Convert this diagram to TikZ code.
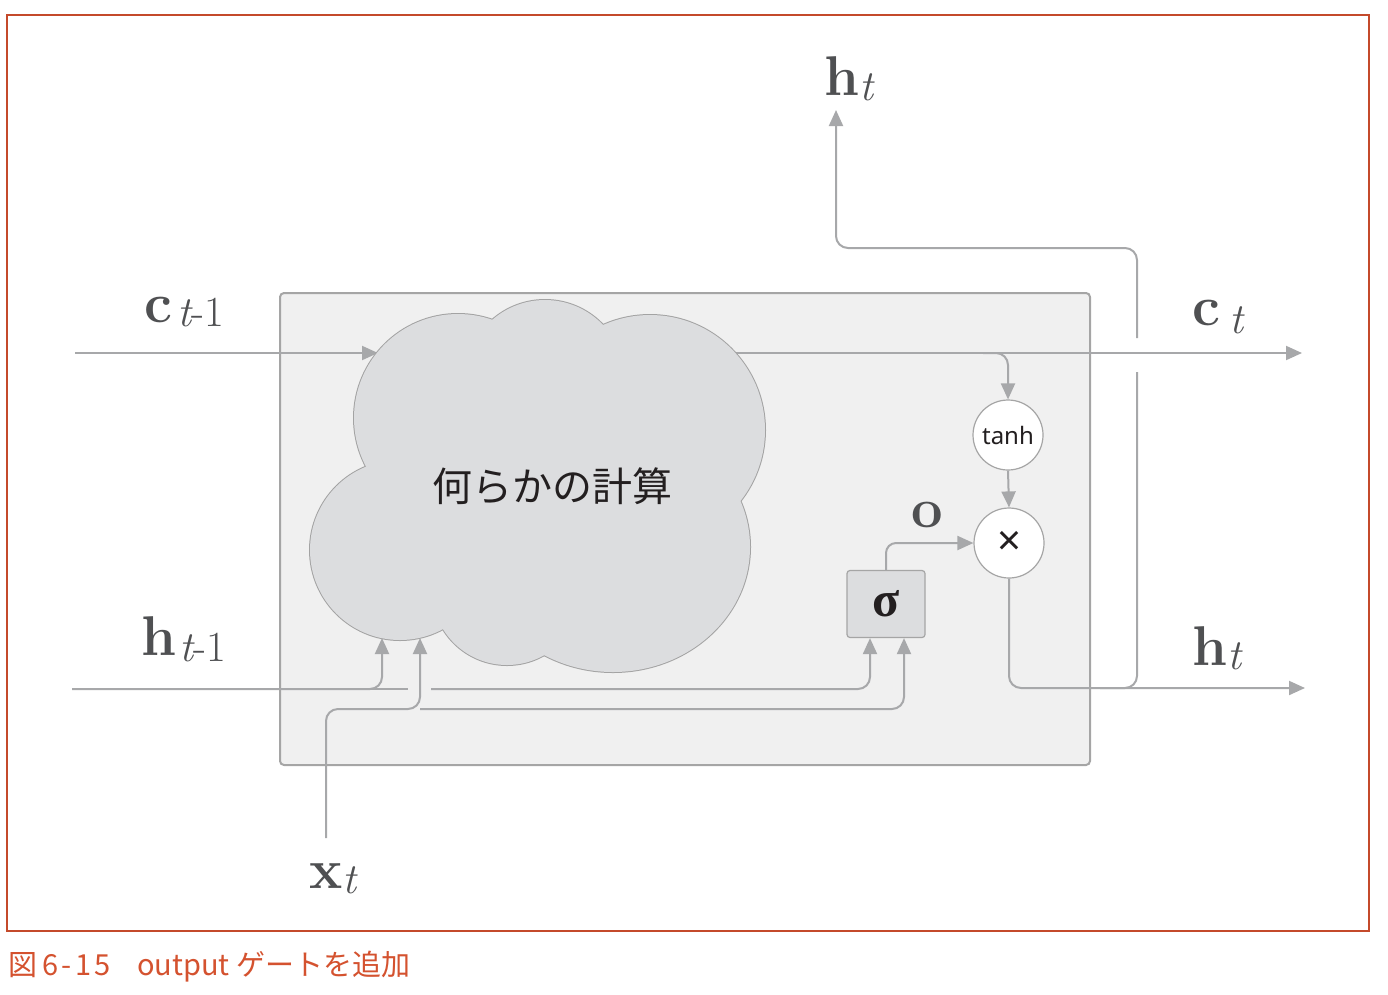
\documentclass[tikz,border=0pt]{standalone}
\usepackage{fontspec}
\usetikzlibrary{arrows.meta}
\newfontfamily\jpfont{Noto Sans CJK JP}
\newfontfamily\sansfont{Noto Sans}
\newfontfamily\greekfont{Liberation Serif}
\definecolor{linegray}{HTML}{A7A8AA}
\definecolor{boxfill}{HTML}{F0F0F0}
\definecolor{boxdraw}{HTML}{A5A5A5}
\definecolor{cloudfill}{HTML}{DCDDDF}
\definecolor{cloudline}{HTML}{A3A3A3}
\definecolor{labelgray}{HTML}{4F5052}
\definecolor{textdark}{HTML}{231F20}
\definecolor{capred}{HTML}{D4522F}
\definecolor{framered}{HTML}{C44A2B}
\newcommand\lblB[1]{{\fontsize{56}{56}\selectfont\bfseries #1}}
\newcommand\lblS[1]{{\fontsize{43}{43}\selectfont #1}}
\begin{document}
\begin{tikzpicture}[x=1pt,y=-1pt,
  conn/.style={draw=linegray,line width=2pt,rounded corners=12pt},
  arr/.style={conn,-{Triangle[length=16pt,width=14pt]}},
  circnode/.style={circle,draw=boxdraw,line width=1.2pt,fill=white,minimum size=70pt,inner sep=0pt,text=textdark},
  sigbox/.style={draw=boxdraw,line width=1.2pt,fill=cloudfill,rounded corners=3pt,minimum width=78pt,minimum height=67pt,inner sep=0pt,text=textdark},
  lab/.style={anchor=base west,inner sep=0pt,text=labelgray}]
\useasboundingbox (0,0) rectangle (1388,994);
% outer frame
\draw[framered,line width=1.3pt] (7,15) rectangle (1369,931);
% cell box
\draw[draw=boxdraw,fill=boxfill,line width=2pt,rounded corners=4pt] (280,293) rectangle (1090,765);
% coordinates
\coordinate (ctin) at (75,353);
\coordinate (cin) at (378,353);
\coordinate (cout) at (735,353);
\coordinate (ctend) at (1302,353);
\coordinate (cbr) at (983,353);
\coordinate (htin) at (72,689);
\coordinate (hgapL) at (408,689);
\coordinate (hgapR) at (431,689);
\coordinate (cloudA) at (382,638);
\coordinate (cloudB) at (420,638);
\coordinate (xin) at (326,838);
\coordinate (xsplit) at (420,709);
\coordinate (htend) at (1305,688);
\coordinate (hbr) at (1100,688);
\coordinate (hopLow) at (1137,372);
\coordinate (hopHigh) at (1137,338);
\coordinate (htop) at (836,110);
% c line
\draw[arr] (ctin) -- (cin);
\draw[arr] (cout) -- (ctend);
% cloud
\foreach \cx/\cy/\rx/\ry in {545/380/80/80,650/430/115/115,613/547/137/125,507/590/75/75,400/550/90/90,458/418/104/104}
  \draw[cloudline,line width=2pt] (\cx,\cy) ellipse [x radius=\rx pt,y radius=\ry pt];
\foreach \cx/\cy/\rx/\ry in {545/380/80/80,650/430/115/115,613/547/137/125,507/590/75/75,400/550/90/90,458/418/104/104,550/490/140/110}
  \fill[cloudfill] (\cx,\cy) ellipse [x radius=\rx pt,y radius=\ry pt];
\node[text=textdark,inner sep=0pt] (calc) at (552,486) {\jpfont\fontsize{40}{40}\selectfont 何らかの計算};
% nodes
\node[circnode] (tanh) at (1008,435) {\sansfont\fontsize{24}{24}\selectfont tanh};
\node[circnode] (mul) at (1009,543) {\sansfont\fontsize{42}{42}\selectfont ×};
\node[sigbox] (sig) at (886,604) {\greekfont\bfseries\fontsize{50}{50}\selectfont σ};
% connectors
\draw[arr] (cbr) -| (tanh.north);
\draw[arr] (tanh.south) -- (mul.north);
\draw[arr,rounded corners=10pt] (sig.north) |- (mul.west);
\draw[arr] (mul.south) |- (htend);
\draw[conn] (hbr) -| (hopLow);
\draw[arr] (hopHigh) -- (1137,248) -- (836,248) -- (htop);
\draw[arr] (htin) -| (cloudA);
\draw[conn] (htin) -- (hgapL);
\draw[arr] (hgapR) -| ([xshift=-16pt]sig.south);
\draw[arr] (xin) -- (326,709) -- (xsplit) -- (cloudB);
\draw[arr] (xsplit) -| ([xshift=18pt]sig.south);
% labels
\node[lab] (lo) at (911,527) {\lblB{o}};
\node[lab] (lhtop) at (824,95) {\lblB{h}\raisebox{-5pt}{\lblS{\itshape t}}};
\node[lab] (lct1) at (144,322) {\lblB{c}\kern5pt\raisebox{-4pt}{\lblS{{\itshape t}-1}}};
\node[lab] (lht1) at (141,655) {\lblB{h}\kern3pt\raisebox{-6pt}{\lblS{{\itshape t}-1}}};
\node[lab] (lct) at (1192,325) {\lblB{c}\kern9pt\raisebox{-8pt}{\lblS{\itshape t}}};
\node[lab] (lht) at (1192,665) {\lblB{h}\raisebox{-4pt}{\lblS{\itshape t}}};
\node[lab] (lxt) at (309,888) {\lblB{x}\raisebox{-5pt}{\lblS{\itshape t}}};
% caption
\node[anchor=base west,inner sep=0pt,text=capred] (cap) at (8,975) {\jpfont\fontsize{29}{29}\selectfont 図\kern5pt{\addfontfeature{LetterSpace=12}6-15}\hspace{0.9em}output ゲートを追加};
\end{tikzpicture}
\end{document}
